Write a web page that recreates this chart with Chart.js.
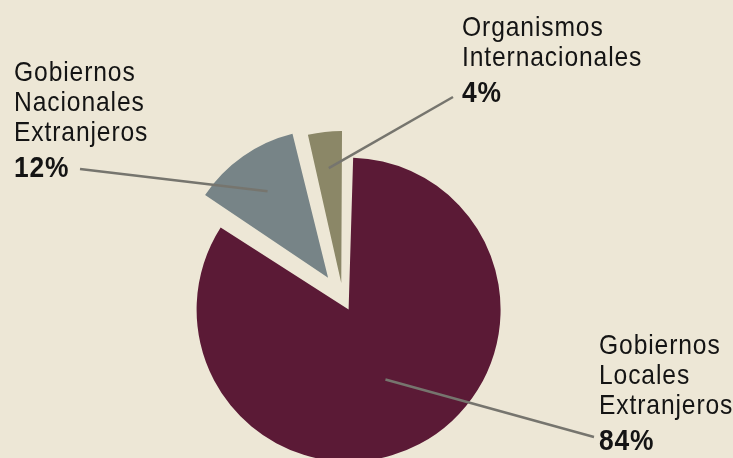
<!DOCTYPE html>
<html>
<head>
<meta charset="utf-8">
<script src="https://cdn.jsdelivr.net/npm/chart.js@4.4.1/dist/chart.umd.min.js"></script>
<style>
    html, body { margin: 0; padding: 0; }
    body {
        width: 733px; height: 458px; overflow: hidden; position: relative;
        background: #ede7d6;
        font-family: "Liberation Sans", Arial, sans-serif;
    }
    #sourcesChart { position: absolute; left: 0; top: 0; }
    /* condensed look: no narrow face installed, so squeeze the regular one */
    .label {
        position: absolute; font-size: 28px; line-height: 30px; letter-spacing: 1px;
        color: #141414; white-space: nowrap;
        transform: scaleX(0.88); transform-origin: 0 0;
    }
    .label b { display: block; font-size: 30px; line-height: 36px; margin-top: 2px; letter-spacing: 1px; }
</style>
</head>
<body>
<canvas id="sourcesChart" width="733" height="458"></canvas>
<script>
// data
const categories = ['Gobiernos Locales Extranjeros', 'Gobiernos Nacionales Extranjeros', 'Organismos Internacionales'];
const shares = [84, 12, 4];
const labelLines = [
    ['Gobiernos', 'Locales', 'Extranjeros'],
    ['Gobiernos', 'Nacionales', 'Extranjeros'],
    ['Organismos', 'Internacionales']
];

// styles
const sliceColors = ['#5b1a36', '#778487', '#8b8767'];
const sliceOffsets = [48, 104, 64];
const labelBoxes = [[599, 330], [14, 57], [462, 12]]; // left, top of each label
const lineEnds = [[594, 437], [80, 169], [453, 97]];
const leaderDepth = [0.65, 0.94, 0.94];

// labels as real text
labelLines.forEach(function(lines, i) {
    const div = document.createElement('div');
    div.className = 'label';
    div.style.left = labelBoxes[i][0] + 'px';
    div.style.top = labelBoxes[i][1] + 'px';
    div.innerHTML = lines.join('<br>') + '<b>' + shares[i] + '%</b>';
    document.body.appendChild(div);
});

// leader lines from each slice to its label
const leaderLines = {
    id: 'leaderLines',
    afterDatasetsDraw(chart) {
        const ctx = chart.ctx;
        ctx.save();
        ctx.strokeStyle = '#76756e';
        ctx.lineWidth = 2.5;
        chart.getDatasetMeta(0).data.forEach(function(arc, i) {
            const p = arc.getProps(['x', 'y', 'startAngle', 'endAngle', 'outerRadius'], true);
            const mid = (p.startAngle + p.endAngle) / 2;
            const r = p.outerRadius * leaderDepth[i];
            ctx.beginPath();
            ctx.moveTo(p.x + Math.cos(mid) * r, p.y + Math.sin(mid) * r);
            ctx.lineTo(lineEnds[i][0], lineEnds[i][1]);
            ctx.stroke();
        });
        ctx.restore();
    }
};

const ctx = document.getElementById('sourcesChart').getContext('2d');
const sourcesChart = new Chart(ctx, {
    type: 'pie',
    data: {
        labels: categories,
        datasets: [{
            data: shares,
            backgroundColor: sliceColors,
            offset: sliceOffsets,
            borderWidth: 0
        }]
    },
    options: {
        responsive: false,
        animation: false,
        rotation: 1,
        radius: 140,
        layout: { padding: { left: 0, right: 47, top: 140, bottom: 0 } },
        plugins: {
            legend: { display: false },
            tooltip: { enabled: false }
        }
    },
    plugins: [leaderLines]
});
</script>
</body>
</html>
